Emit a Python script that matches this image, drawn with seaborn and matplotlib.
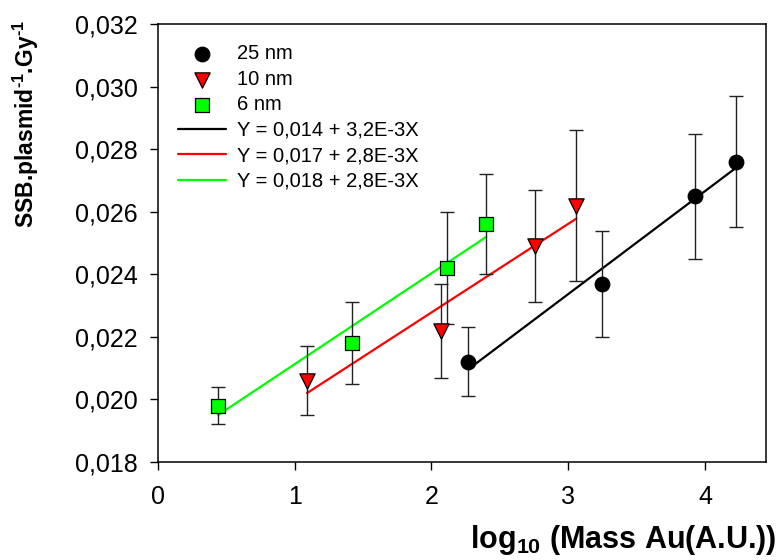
import numpy as np
import pandas as pd
import seaborn as sns
import matplotlib
matplotlib.use("Agg")
import matplotlib.pyplot as plt

# dane
x_25 = [2.27, 3.25, 3.93, 4.23]
y_25 = [0.0212, 0.0237, 0.0265, 0.0276]
err_25 = [0.0011, 0.0017, 0.0020, 0.0021]

x_10 = [1.09, 2.07, 2.76, 3.06]
y_10 = [0.0206, 0.0222, 0.0249, 0.0262]
err_10 = [0.0011, 0.0015, 0.0018, 0.0024]

x_6 = [0.44, 1.42, 2.11, 2.40]
y_6 = [0.0198, 0.0218, 0.0242, 0.0256]
err_6 = [0.0006, 0.0013, 0.0018, 0.0016]

series_labels = ["25 nm", "10 nm", "6 nm"]
fit_labels = ["Y = 0,014 + 3,2E-3X", "Y = 0,017 + 2,8E-3X", "Y = 0,018 + 2,8E-3X"]

x_ticks = [0, 1, 2, 3, 4]
y_ticks = [0.018, 0.020, 0.022, 0.024, 0.026, 0.028, 0.030, 0.032]
y_tick_labels = ["0,018", "0,020", "0,022", "0,024", "0,026", "0,028", "0,030", "0,032"]

sns.set_theme(style="ticks")
plt.rcParams["font.family"] = ["Liberation Sans", "DejaVu Sans"]
plt.rcParams["mathtext.fontset"] = "custom"
plt.rcParams["mathtext.rm"] = "Liberation Sans"
plt.rcParams["mathtext.bf"] = "Liberation Sans:bold"
plt.rcParams["text.color"] = "black"
plt.rcParams["axes.labelcolor"] = "black"
plt.rcParams["xtick.color"] = "black"
plt.rcParams["ytick.color"] = "black"

fig = plt.figure(figsize=(7.82, 5.60), dpi=100)
ax = fig.add_axes([0.202, 0.175, 0.7775, 0.782])

groups = [
    (x_25, y_25, err_25, "black", "o", 10.5, "black"),
    (x_10, y_10, err_10, "#ff0000", "v", 11, "red"),
    (x_6, y_6, err_6, "#00ff00", "s", 9.5, "#00ff00"),
]

# linie regresji
for (xs, ys, es, fc, mk, ms, lc), lab in zip(groups, fit_labels):
    df = pd.DataFrame({"x": xs, "y": ys})
    sns.regplot(data=df, x="x", y="y", ax=ax, scatter=False, ci=None,
                truncate=True, label=lab,
                line_kws=dict(color=lc, lw=1.6, zorder=2))

# słupki błędów i punkty
for (xs, ys, es, fc, mk, ms, lc), lab in zip(groups, series_labels):
    ax.errorbar(xs, ys, yerr=es, fmt="none", ecolor="#222222",
                elinewidth=1.0, capsize=4.8, capthick=1.0, zorder=3)
    df = pd.DataFrame({"x": xs, "y": ys})
    sns.scatterplot(data=df, x="x", y="y", ax=ax, marker=mk, s=ms ** 2,
                    color=fc, edgecolor="black", linewidth=0.9,
                    label=lab, zorder=4)

ax.set_xlim(0, 4.446)
ax.set_ylim(0.018, 0.032)
ax.set_xticks(x_ticks)
ax.set_xticklabels([str(t) for t in x_ticks])
ax.set_yticks(y_ticks)
ax.set_yticklabels(y_tick_labels)
ax.tick_params(axis="both", direction="out", length=6, width=1,
               labelsize=18, color="black", labelcolor="black")
ax.tick_params(axis="y", pad=8.5)
ax.tick_params(axis="x", pad=10.5)
for sp in ax.spines.values():
    sp.set_linewidth(1.1)
    sp.set_color("black")

ax.set_xlabel(r"log$_{\mathbf{10}}$ (Mass Au(A.U.))", fontsize=22,
              fontweight="bold", ha="right", va="baseline")
ax.xaxis.set_label_coords(1.018, -0.196)
ax.set_ylabel("SSB.plasmid$^{\\mathbf{\u20101}}$.Gy$^{\\mathbf{\u20101}}$", fontsize=16.5,
              fontweight="bold", ha="center", va="center")
ax.yaxis.set_label_coords(-0.217, 0.772)

handles, labels = ax.get_legend_handles_labels()
order = series_labels + fit_labels
hmap = dict(zip(labels, handles))
ax.legend([hmap[l] for l in order], order, loc="upper left",
          bbox_to_anchor=(0.02, 0.972), frameon=False, fontsize=14.5,
          labelspacing=0.32, handlelength=2.35, handletextpad=0.55,
          borderaxespad=0.0)

fig.savefig("out.png", dpi=100)
